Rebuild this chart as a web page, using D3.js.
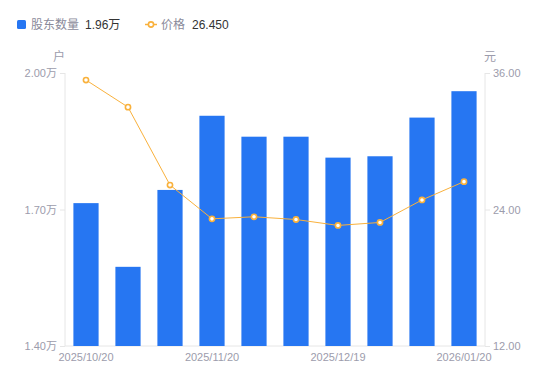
<!DOCTYPE html>
<html>
<head>
<meta charset="utf-8">
<script src="https://cdn.jsdelivr.net/npm/d3@7"></script>
<style>
  body { margin: 0; background: #fff; }
  text { font-family: "Liberation Sans", Arial, "Noto Sans CJK SC", sans-serif; }
</style>
</head>
<body>
<div id="chart"></div>
<script>
// dates on the x axis, only every third one gets a label
var dates = ["2025/10/20", "2025/10/31", "2025/11/10", "2025/11/20", "2025/11/28",
             "2025/12/10", "2025/12/19", "2025/12/31", "2026/01/09", "2026/01/20"];
// 股东数量, in 万户
var holders = [1.714, 1.574, 1.743, 1.906, 1.860, 1.860, 1.814, 1.817, 1.902, 1.960];
// 价格, 元
var prices = [35.38, 33.00, 26.15, 23.18, 23.36, 23.12, 22.60, 22.86, 24.84, 26.45];
var leftTicks = [1.40, 1.70, 2.00];
var rightTicks = [12, 24, 36];

var W = 550, H = 381;
var m = {top: 73, right: 65, bottom: 35, left: 65};

var svg = d3.select("#chart").append("svg")
    .attr("width", W)
    .attr("height", H);

var x = d3.scaleBand()
    .domain(dates)
    .range([m.left, W - m.right])
    .paddingInner(0.4)
    .paddingOuter(0.2);

var yL = d3.scaleLinear().domain([1.40, 2.00]).range([H - m.bottom, m.top]);
var yR = d3.scaleLinear().domain([12, 36]).range([H - m.bottom, m.top]);

var gridCol = "#e6e6e6", labCol = "#9c9cac";

// axes
var leftAxis = svg.append("g")
    .attr("transform", "translate(" + m.left + ",0)")
    .call(d3.axisLeft(yL).tickValues(leftTicks).tickSize(5).tickPadding(3)
      .tickFormat(function(d) { return d.toFixed(2) + "万"; }));

var rightAxis = svg.append("g")
    .attr("transform", "translate(" + (W - m.right) + ",0)")
    .call(d3.axisRight(yR).tickValues(rightTicks).tickSize(5).tickPadding(3)
      .tickFormat(function(d) { return d.toFixed(2); }));

var bottomAxis = svg.append("g")
    .attr("transform", "translate(0," + (H - m.bottom) + ")")
    .call(d3.axisBottom(x).tickSize(0).tickPadding(7)
      .tickValues(dates.filter(function(d, i) { return i % 3 == 0; })));

[leftAxis, rightAxis, bottomAxis].forEach(function(g) {
  g.select(".domain").attr("stroke", gridCol);
  g.selectAll(".tick line").attr("stroke", gridCol);
  g.selectAll("text").attr("fill", labCol).style("font-size", "11px");
});
leftAxis.select(".domain").attr("d", "M0," + m.top + "V" + (H - m.bottom));
rightAxis.select(".domain").attr("d", "M0," + m.top + "V" + (H - m.bottom));
bottomAxis.select(".domain").attr("d", "M" + m.left + ",0H" + (W - m.right));

// bars
svg.append("g").selectAll("rect")
    .data(holders)
    .enter().append("rect")
    .attr("x", function(d, i) { return x(dates[i]); })
    .attr("y", function(d) { return yL(d); })
    .attr("width", x.bandwidth())
    .attr("height", function(d) { return yL(1.40) - yL(d); })
    .attr("fill", "#2676f2");

// price line
var orange = "#f9b13c";
var line = d3.line()
    .x(function(d, i) { return x(dates[i]) + x.bandwidth() / 2; })
    .y(function(d) { return yR(d); });

svg.append("path")
    .datum(prices)
    .attr("d", line)
    .attr("fill", "none")
    .attr("stroke", orange)
    .attr("stroke-width", 1);

svg.append("g").selectAll("circle")
    .data(prices)
    .enter().append("circle")
    .attr("cx", function(d, i) { return x(dates[i]) + x.bandwidth() / 2; })
    .attr("cy", function(d) { return yR(d); })
    .attr("r", 2.6)
    .attr("fill", "#fff")
    .attr("stroke", orange)
    .attr("stroke-width", 1.6);

// unit labels
svg.append("text").attr("x", 59).attr("y", 61).attr("text-anchor", "middle")
    .attr("fill", labCol).style("font-size", "12px").text("户");
svg.append("text").attr("x", 490).attr("y", 61).attr("text-anchor", "middle")
    .attr("fill", labCol).style("font-size", "12px").text("元");

// legend
var lg = svg.append("g");
lg.append("rect").attr("x", 17).attr("y", 20).attr("width", 9).attr("height", 9)
    .attr("rx", 1.5).attr("fill", "#2676f2");
lg.append("text").attr("x", 31).attr("y", 29).attr("fill", "#8a8a9a")
    .style("font-size", "12px").text("股东数量");
lg.append("text").attr("x", 85).attr("y", 29).attr("fill", "#333")
    .style("font-size", "12px").text(d3.format(".2f")(holders[holders.length - 1]) + "万");

lg.append("line").attr("x1", 145).attr("x2", 157).attr("y1", 24.5).attr("y2", 24.5)
    .attr("stroke", orange).attr("stroke-width", 1.5);
lg.append("circle").attr("cx", 151).attr("cy", 24.5).attr("r", 2.6)
    .attr("fill", "#fff").attr("stroke", orange).attr("stroke-width", 1.6);
lg.append("text").attr("x", 161).attr("y", 29).attr("fill", "#8a8a9a")
    .style("font-size", "12px").text("价格");
lg.append("text").attr("x", 192).attr("y", 29).attr("fill", "#333")
    .style("font-size", "12px").text(d3.format(".3f")(prices[prices.length - 1]));
</script>
</body>
</html>
